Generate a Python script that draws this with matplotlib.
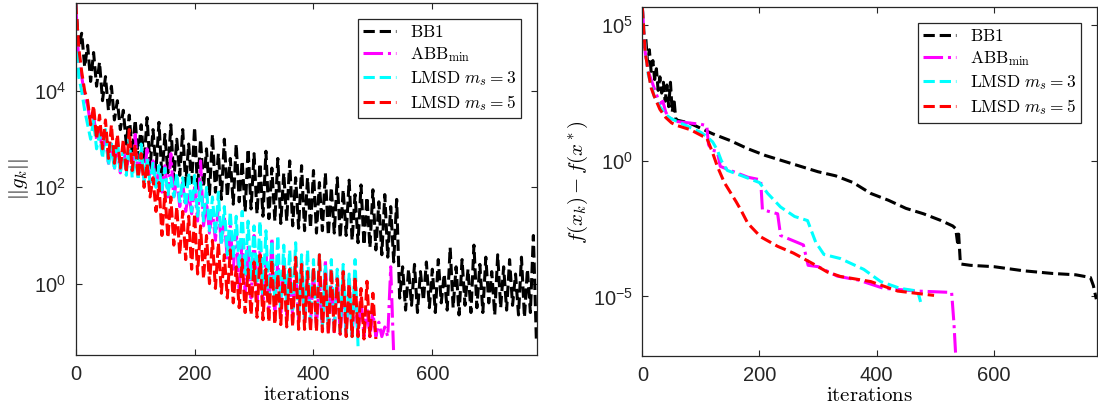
import numpy as np
import matplotlib.pyplot as plt

plt.rcParams['font.family'] = 'Liberation Sans'
plt.rcParams['mathtext.fontset'] = 'cm'

# ---- left panel: log10 ||g_k||, one value read every 5 iterations ----
step = 5
g_bb1 = [5.83, 4.9, 5.2, 4.5, 4.95, 4.2, 4.8, 4.1, 4.6, 3.8, 4.3, 3.6, 4.1, 3.4, 3.8, 3.2,
         3.6, 2.9, 3.5, 2.7, 3.4, 2.6, 3.3, 2.5, 3.45, 2.4, 3.2, 2.35, 3.35, 2.2, 3.1, 2.3,
         3.3, 2.15, 3.0, 2.25, 3.2, 2.05, 2.9, 2.1, 3.25, 1.95, 3.0, 2.0, 2.8, 1.85, 3.1, 1.9,
         2.7, 1.75, 3.0, 1.8, 2.6, 1.65, 2.9, 1.7, 2.55, 1.5, 2.8, 1.55, 2.7, 1.45, 2.5, 1.4,
         2.75, 1.35, 2.4, 1.3, 2.6, 1.25, 2.3, 1.3, 2.55, 1.2, 2.2, 1.15, 2.45, 1.1, 2.2, 1.15,
         2.35, 1.05, 2.1, 1.1, 2.3, 1.0, 2.0, 1.05, 2.2, 0.95, 1.95, 1.0, 2.15, 0.9, 1.85, 0.85,
         2.05, 0.8, 1.8, 0.75, 1.95, 0.7, 1.7, 0.6, 1.85, 0.55, 1.6, 0.45, 1.75, -0.3, 0.35, -0.55,
         0.3, -0.45, 0.4, -0.6, 0.25, -0.35, 0.45, -0.5, 0.3, -0.6, 0.5, -0.4, 0.2, -0.55, 0.75, -0.5,
         0.35, -0.65, 0.5, -0.45, 0.3, -0.6, 0.8, -0.5, 0.4, -0.6, 0.55, -0.4, 0.25, -0.65, 0.6, -0.5,
         0.35, -0.55, 0.5, -0.45, 0.2, -0.65, 0.55, -0.7, 0.3, -0.6, 1.0, -1.15]
g_abb = [5.83, 4.6, 4.3, 3.9, 3.7, 3.3, 3.5, 3.0, 3.2, 2.7, 3.1, 2.5, 2.9, 2.4, 2.8, 2.3,
         2.9, 2.35, 2.7, 2.3, 3.1, 2.25, 2.6, 2.2, 2.8, 2.1, 2.55, 2.0, 2.4, 1.9, 2.45, 1.8,
         2.7, 1.75, 2.2, 1.6, 2.1, 1.5, 1.9, 1.45, 2.0, 1.3, 2.55, 1.2, 1.7, 1.05, 1.5, 0.9,
         1.6, 0.8, 1.35, 0.5, 1.2, 0.3, 1.1, -0.1, 0.9, -0.2, 0.8, -0.3, 1.0, -0.35, 0.7, -0.45,
         0.6, -0.5, 0.95, -0.55, 0.5, -0.6, 0.4, -0.65, 0.35, -0.7, 0.3, -0.75, 0.45, -0.8, 0.2, -0.85,
         0.3, -0.9, 0.1, -0.95, 0.5, -1.0, 0.0, -1.0, 0.2, -1.05, -0.1, -1.05, 0.1, -1.05, -0.2, -1.1,
         -0.3, -1.1, -0.5, -1.1, -0.6, -1.1, -0.8, -1.1, -0.9, -1.1, 0.35, -1.48]
g_lm3 = [5.83, 4.3, 4.0, 3.6, 3.3, 3.0, 3.4, 2.8, 3.1, 2.6, 3.2, 2.45, 2.9, 2.35, 3.0, 2.3,
         2.8, 2.25, 3.0, 2.2, 2.7, 2.15, 2.9, 2.1, 2.6, 2.1, 2.5, 2.0, 2.45, 1.95, 2.4, 1.85,
         2.2, 1.8, 2.3, 1.7, 2.2, 1.6, 2.3, 1.5, 2.25, 1.4, 2.1, 1.3, 2.0, 1.1, 1.8, 1.0,
         1.9, 0.8, 1.6, 0.6, 1.5, 0.5, 1.4, 0.3, 1.5, 0.2, 1.3, 0.1, 1.2, 0.0, 1.3, -0.2,
         1.1, -0.3, 0.9, -0.4, 1.0, -0.5, 0.8, -0.55, 0.7, -0.6, 0.85, -0.7, 0.6, -0.75, 0.7, -0.8,
         0.5, -0.85, 0.6, -0.9, 0.4, -0.95, 0.5, -1.0, 0.3, -1.0, 0.4, -1.05, 0.2, -1.1, 0.5, -1.3]
g_lm5 = [5.83, 4.9, 4.4, 4.0, 3.8, 3.3, 3.7, 3.0, 3.5, 2.8, 3.4, 2.6, 3.3, 2.5, 3.1, 2.4,
         3.0, 2.3, 3.2, 2.35, 2.9, 2.2, 2.7, 2.0, 2.5, 1.8, 2.2, 1.5, 2.1, 1.0, 1.9, 0.95,
         1.8, 0.8, 1.6, 0.6, 1.5, 0.5, 1.4, 0.3, 1.45, 0.2, 1.2, 0.1, 1.0, 0.0, 0.9, -0.1,
         0.85, -0.2, 0.6, -0.3, 0.7, -0.4, 0.35, -0.5, 0.5, -0.6, 0.3, -0.65, 0.45, -0.7, 0.6, -0.75,
         0.3, -0.8, 0.5, -0.85, 0.2, -0.85, 0.4, -0.9, 0.3, -0.9, 0.55, -0.95, 0.4, -0.95, 0.25, -1.0,
         0.35, -1.0, 0.6, -1.0, 0.2, -1.05, 0.3, -1.05, 0.1, -1.05, 0.25, -1.1, 0.0, -1.1, 0.15, -1.1,
         -0.1, -1.15, 0.05, -1.1, -0.2, -1.15]

# ---- right panel: log10 (f(x_k) - f(x*)) ----
f_bb1_it = [0, 3, 6, 9, 12, 15, 18, 21, 24, 27, 30, 33, 36, 39, 42, 45, 48, 51, 54, 57, 60,
            80, 100, 120, 150, 180, 210, 240, 270, 300, 330, 360, 390, 420, 450, 480, 510,
            530, 535, 538, 540, 543, 560, 600, 650, 700, 740, 765, 770, 775]
f_bb1 = [5.67, 4.2, 4.5, 3.6, 4.1, 3.3, 3.7, 3.0, 3.4, 2.6, 3.1, 2.5, 2.9, 2.2, 2.8, 2.0, 2.9,
         1.8, 2.3, 1.55, 1.5, 1.4, 1.2, 1.0, 0.75, 0.45, 0.2, 0.0, -0.2, -0.4, -0.55, -0.8,
         -1.2, -1.45, -1.75, -1.95, -2.2, -2.4, -2.5, -3.0, -2.7, -3.8, -3.85, -3.9, -4.05,
         -4.15, -4.2, -4.3, -4.6, -5.1]
f_abb_it = [0, 5, 10, 15, 20, 25, 30, 35, 40, 45, 50, 60, 80, 100, 110, 113, 118, 128, 133,
            150, 180, 202, 205, 231, 236, 275, 283, 300, 333, 370, 412, 470, 528, 532, 535]
f_abb = [5.67, 4.0, 3.3, 3.0, 2.7, 2.4, 2.1, 2.2, 1.8, 1.6, 1.55, 1.45, 1.4, 1.35, 1.3, 0.6,
         0.4, 0.35, -0.2, -0.35, -0.6, -0.7, -1.8, -1.95, -2.75, -3.1, -3.85, -3.9, -4.25,
         -4.4, -4.7, -4.8, -4.85, -6.0, -7.2]
f_lm3_it = [0, 5, 10, 15, 20, 30, 40, 50, 60, 80, 100, 110, 120, 128, 135, 145, 170, 200,
            214, 236, 260, 282, 296, 310, 338, 378, 407, 440, 470, 475]
f_lm3 = [5.67, 4.1, 3.2, 2.8, 2.4, 2.0, 1.7, 1.55, 1.45, 1.25, 1.05, 0.9, 0.7, 0.4, 0.0,
         -0.35, -0.55, -0.8, -1.2, -1.7, -2.05, -2.2, -3.0, -3.45, -3.6, -4.0, -4.45, -4.7,
         -4.8, -5.2]
f_lm5_it = [0, 5, 10, 15, 20, 30, 40, 50, 60, 82, 104, 110, 120, 128, 140, 160, 168, 180,
            202, 231, 258, 292, 316, 338, 390, 436, 498]
f_lm5 = [5.67, 4.0, 3.3, 2.7, 2.4, 1.9, 1.6, 1.4, 1.3, 1.15, 0.9, 0.85, 0.3, -0.2, -0.8,
         -1.5, -1.8, -2.3, -2.8, -3.15, -3.4, -3.8, -4.1, -4.26, -4.45, -4.8, -4.96]

labels = [r'$\mathrm{BB1}$', r'$\mathrm{ABB}_{\mathrm{min}}$',
          r'$\mathrm{LMSD}\ m_s = 3$', r'$\mathrm{LMSD}\ m_s = 5$']
colors = ['black', '#ff00ff', '#00ffff', '#ff0000']
styles = ['--', '-.', '--', '--']

fig = plt.figure(figsize=(10.98, 4.2), dpi=100)
ax1 = fig.add_axes([0.069, 0.155, 0.420, 0.838])
ax2 = fig.add_axes([0.585, 0.152, 0.414, 0.831])

left_data = [g_bb1, g_abb, g_lm3, g_lm5]
for vals, c, ls, lab in zip(left_data, colors, styles, labels):
    x = np.arange(len(vals)) * step
    ax1.semilogy(x, 10.0 ** np.array(vals), ls, color=c, lw=2.2, label=lab)

right_data = [(f_bb1_it, f_bb1), (f_abb_it, f_abb), (f_lm3_it, f_lm3), (f_lm5_it, f_lm5)]
for (it, vals), c, ls, lab in zip(right_data, colors, styles, labels):
    ax2.semilogy(it, 10.0 ** np.array(vals), ls, color=c, lw=2.2, label=lab)

ax1.set_ylim(10 ** -1.48, 10 ** 5.83)
ax1.set_yticks([1, 1e2, 1e4])
ax2.set_ylim(10 ** -7.2, 10 ** 5.67)
ax2.set_yticks([1e-5, 1, 1e5])

for ax in (ax1, ax2):
    ax.set_xlim(0, 776)
    ax.set_xticks([0, 200, 400, 600])
    ax.minorticks_off()
    ax.tick_params(direction='in', top=True, right=True, length=4, width=0.8,
                   labelsize=14.5, colors='#262626', pad=7)
    for sp in ax.spines.values():
        sp.set_color('#262626')
        sp.set_linewidth(0.9)
    ax.set_xlabel(r'$\mathrm{iterations}$', fontsize=15, labelpad=1)
    leg = ax.legend(loc='upper right', fontsize=12.5, fancybox=False, framealpha=1,
                    edgecolor='#262626', handlelength=1.9, labelspacing=0.3,
                    borderaxespad=0.9, borderpad=0.3, handletextpad=0.8)
    leg.get_frame().set_linewidth(0.9)

ax1.set_ylabel(r'$||g_k||$', fontsize=15, labelpad=2)
ax2.set_ylabel(r'$f(x_k) - f(x^*)$', fontsize=15, labelpad=2)

fig.savefig('out.png', dpi=100)
